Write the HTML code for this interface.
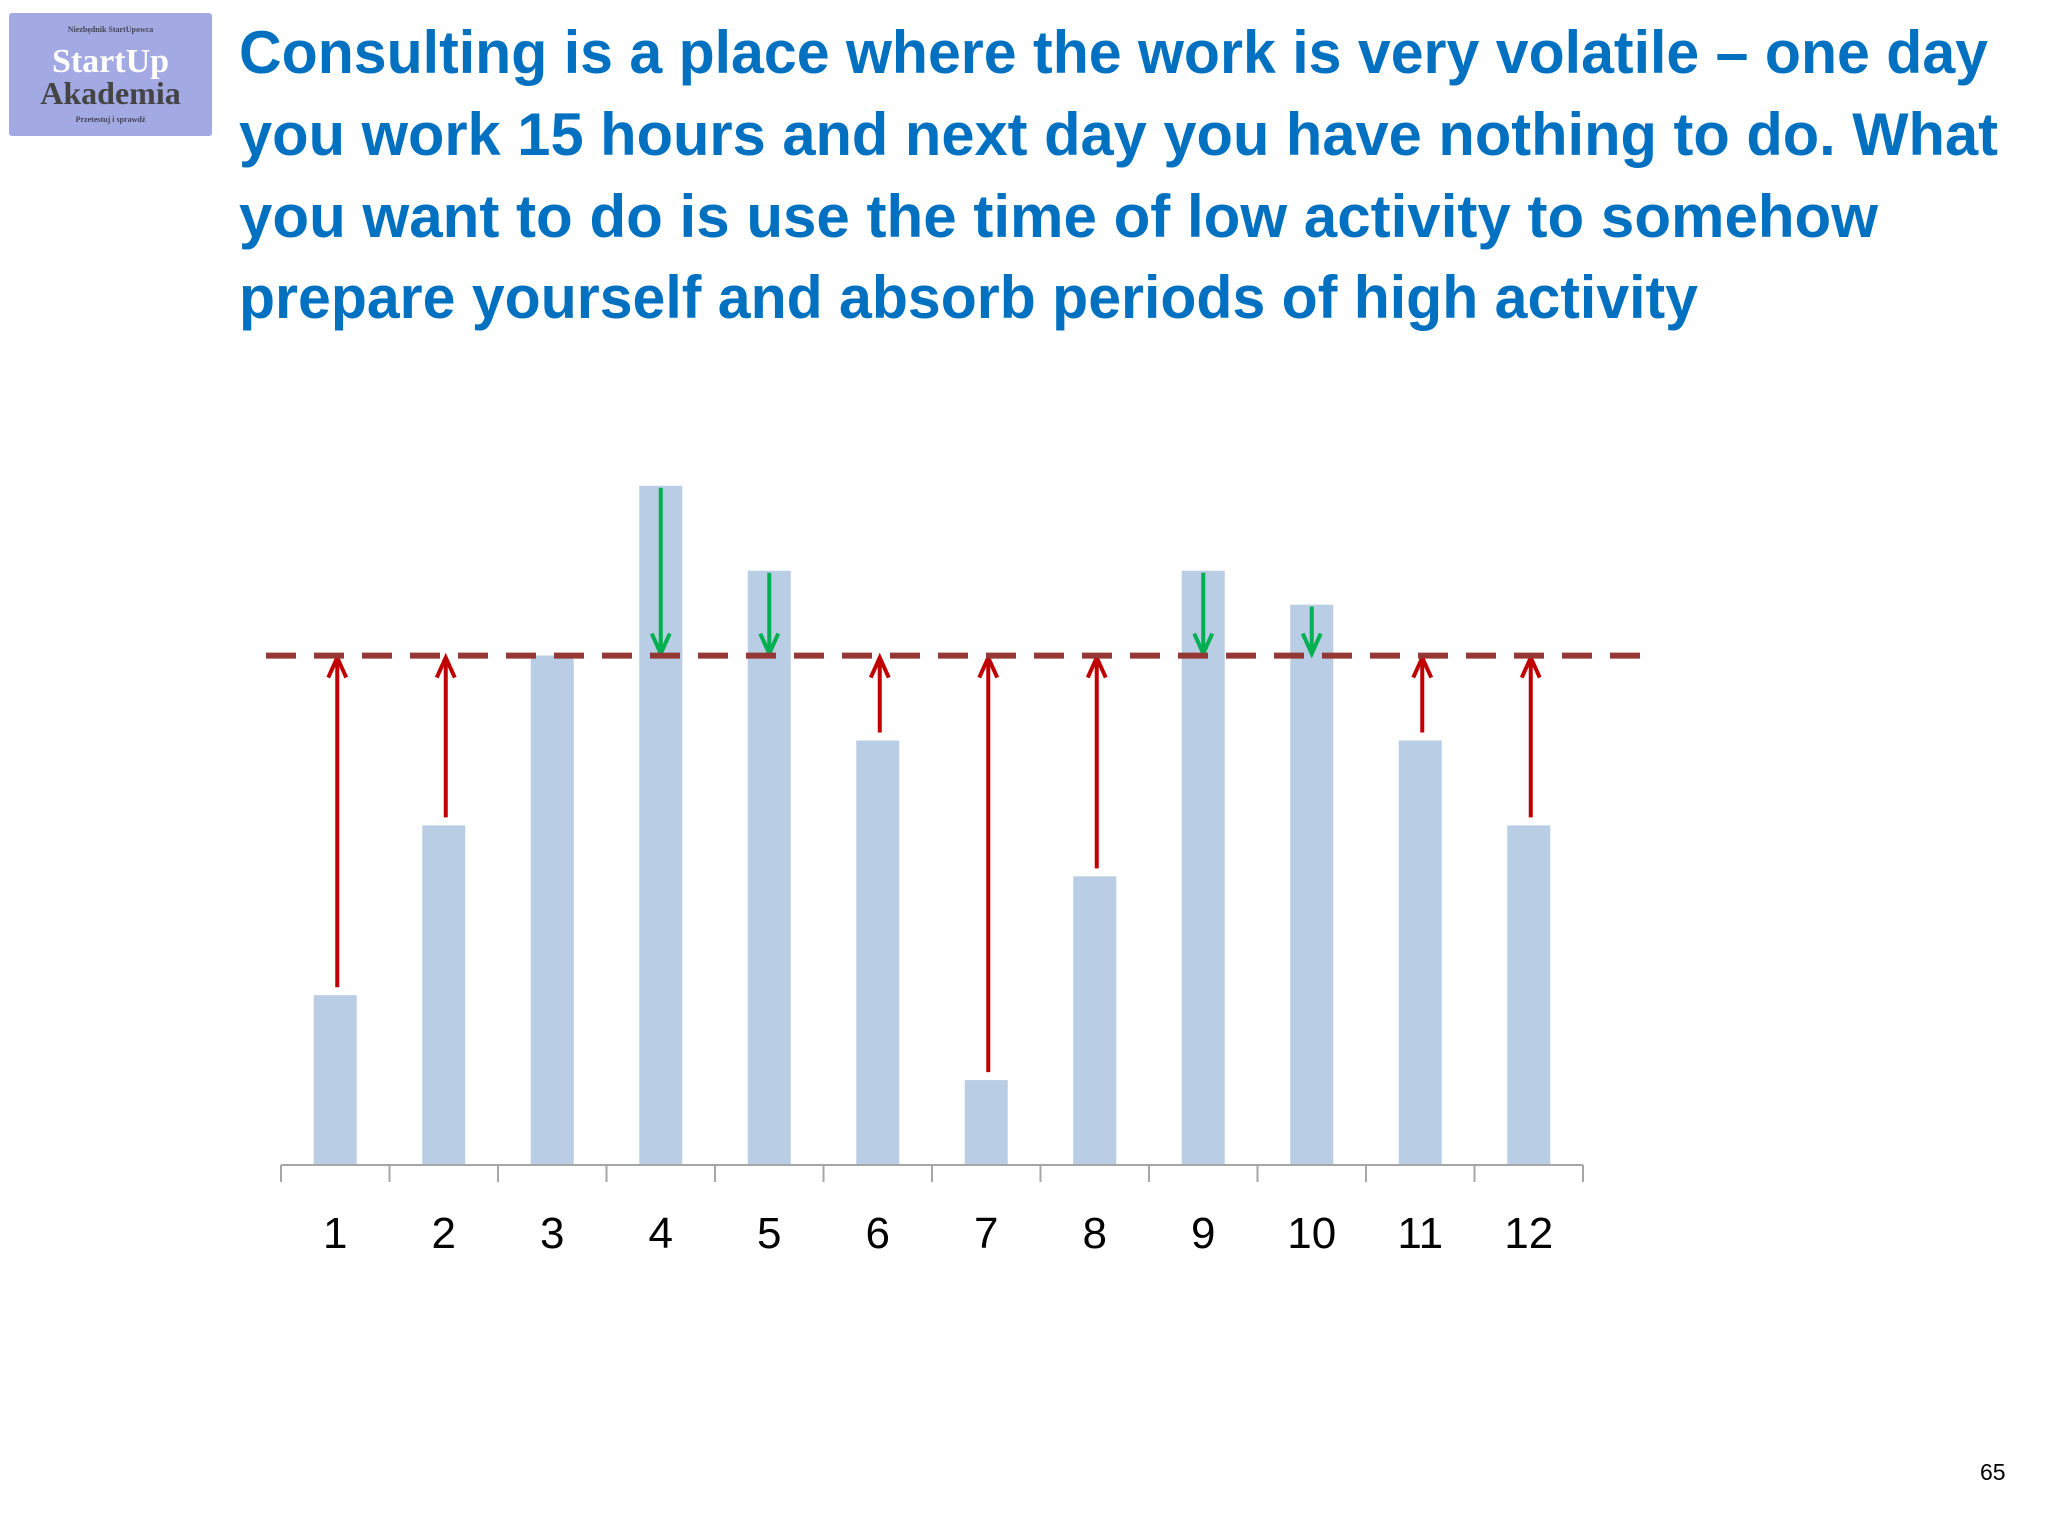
<!DOCTYPE html>
<html><head><meta charset="utf-8"><style>
html,body{margin:0;padding:0;background:#fff;}
body{width:2048px;height:1536px;position:relative;overflow:hidden;font-family:"Liberation Sans",sans-serif;}
</style></head><body>
<div style="position:absolute;left:9px;top:13px;width:203px;height:123px;background:#a3a9e3;border-radius:3px;">
  <div style="position:absolute;top:12px;width:100%;text-align:center;font:bold 8px 'Liberation Serif',serif;color:#445;">Niezbędnik StartUpowca</div>
  <div style="position:absolute;top:32px;width:100%;text-align:center;font:bold 34px 'Liberation Serif',serif;color:#fff;line-height:34px;">StartUp</div>
  <div style="position:absolute;top:64px;width:100%;text-align:center;font:bold 32px 'Liberation Serif',serif;color:#444;line-height:32px;">Akademia</div>
  <div style="position:absolute;top:102px;width:100%;text-align:center;font:bold 8px 'Liberation Serif',serif;color:#445;">Przetestuj i sprawdź</div>
</div>
<svg width="2048" height="360" style="position:absolute;left:0;top:0" font-family="Liberation Sans, sans-serif" font-weight="bold" font-size="60" fill="#0070c0">
  <text x="239" y="73" textLength="1749" lengthAdjust="spacingAndGlyphs">Consulting is a place where the work is very volatile – one day</text>
  <text x="239" y="155" textLength="1759" lengthAdjust="spacingAndGlyphs">you work 15 hours and next day you have nothing to do. What</text>
  <text x="239" y="237" textLength="1639" lengthAdjust="spacingAndGlyphs">you want to do is use the time of low activity to somehow</text>
  <text x="239" y="318" textLength="1459" lengthAdjust="spacingAndGlyphs">prepare yourself and absorb periods of high activity</text>
</svg>
<svg id="chart" width="2048" height="1536" style="position:absolute;left:0;top:0"></svg>
<div style="position:absolute;left:1980px;top:1459px;font:23px 'Liberation Sans',sans-serif;color:#000;">65</div>
<script>
const categories = ["1","2","3","4","5","6","7","8","9","10","11","12"];
const workload = [2,4,6,8,7,5,1,3.4,7,6.6,5,4];
const averageLevel = [6];
const NS = "http://www.w3.org/2000/svg";
const svg = document.getElementById('chart');
const x0 = 281, x1 = 1583, yBase = 1165, unit = 84.9;
const step = (x1 - x0) / categories.length;
const xc = i => x0 + step * (i + 0.5);
const y = v => yBase - v * unit;
function mk(tag, attrs){const e=document.createElementNS(NS,tag);for(const k in attrs)e.setAttribute(k,attrs[k]);svg.appendChild(e);return e;}
const avg = averageLevel[0];
workload.forEach((v,i)=>{
  const b = mk('rect',{x:xc(i)-21.5,y:y(v),width:43,height:yBase-y(v),fill:'#b9cde5'});
  
  
});
const axis = mk('line',{x1:x0,y1:yBase,x2:x1,y2:yBase,stroke:'#a6a6a6','stroke-width':2});


for(let i=0;i<=categories.length;i++){
  const t = mk('line',{x1:x0+step*i,y1:yBase,x2:x0+step*i,y2:yBase+17,stroke:'#a6a6a6','stroke-width':2});
  
  
}
categories.forEach((c,i)=>{
  const t = mk('text',{x:xc(i),y:1248,'text-anchor':'middle','font-size':44,'font-family':'Liberation Sans, sans-serif',fill:'#000'});
  t.textContent = c;
  
  
});
workload.forEach((v,i)=>{
  if (v === avg) return;
  const col = v < avg ? '#c00000' : '#00b050';
  const yEnd = y(avg), yStart = y(v) + (v<avg ? -8 : 2);
  const dir = v < avg ? 1 : -1;
  const g = document.createElementNS(NS,'g'); svg.appendChild(g);
  
  
  const cx = xc(i) + (v<avg?2:0);
  const l = document.createElementNS(NS,'line');
  [['x1',cx],['y1',yStart],['x2',cx],['y2',yEnd+dir*2],['stroke',col],['stroke-width',4]].forEach(a=>l.setAttribute(a[0],a[1]));
  g.appendChild(l);
  const h = document.createElementNS(NS,'polyline');
  h.setAttribute('points',`${cx-9},${yEnd+dir*22} ${cx},${yEnd+dir*2} ${cx+9},${yEnd+dir*22}`);
  h.setAttribute('fill','none');h.setAttribute('stroke',col);h.setAttribute('stroke-width',4);
  g.appendChild(h);
});
const dl = mk('line',{x1:266,y1:y(avg),x2:1640,y2:y(avg),stroke:'#953735','stroke-width':6,'stroke-dasharray':'30 18'});


</script>
</body></html>
